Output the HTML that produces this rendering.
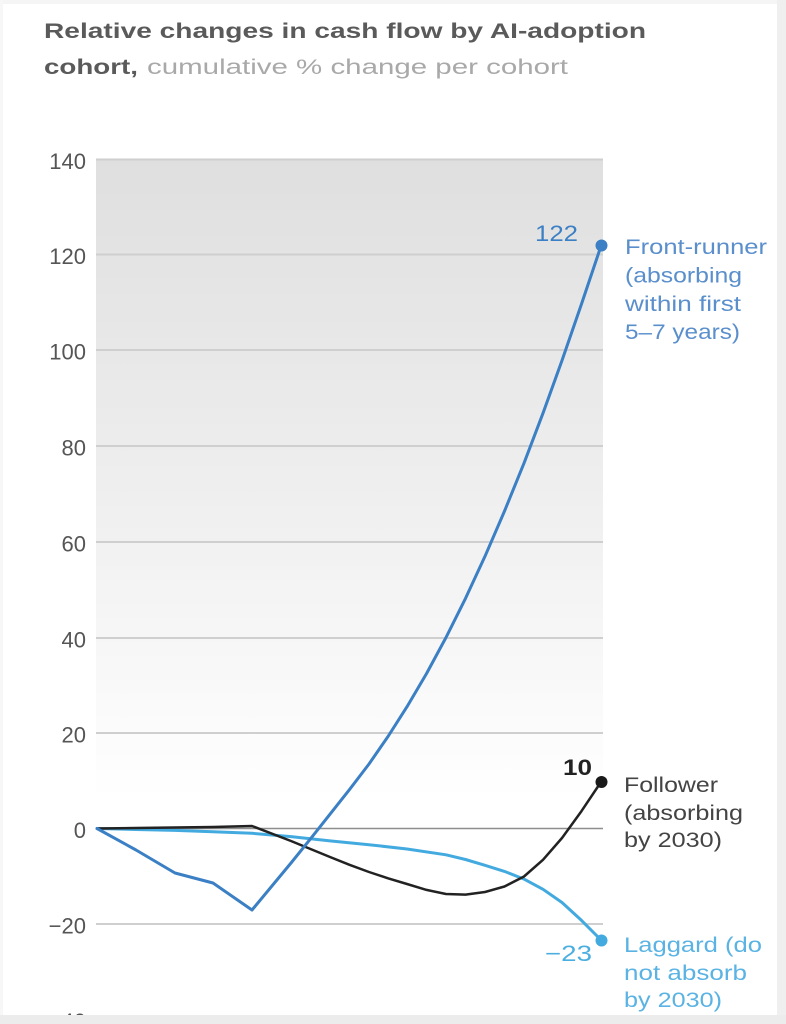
<!DOCTYPE html>
<html>
<head>
<meta charset="utf-8">
<style>
  html, body { margin: 0; padding: 0; background: #ffffff; }
  body { width: 786px; height: 1024px; overflow: hidden; }
  svg { display: block; }
  text { font-family: "Liberation Sans", Arial, sans-serif; }
</style>
</head>
<body>
<svg width="786" height="1024" viewBox="0 0 786 1024" xmlns="http://www.w3.org/2000/svg">
  <defs>
    <linearGradient id="bg" x1="0" y1="159" x2="0" y2="800" gradientUnits="userSpaceOnUse">
      <stop offset="0" stop-color="#dfdfdf"/>
      <stop offset="0.5" stop-color="#eeeeee"/>
      <stop offset="1" stop-color="#ffffff"/>
    </linearGradient>
  </defs>

  <!-- page frame -->
  <rect x="0" y="0" width="786" height="1024" fill="#ffffff"/>
  <rect x="0" y="0" width="786" height="4" fill="#f5f5f5"/>
  <rect x="0" y="0" width="3" height="1024" fill="#f7f7f7"/>

  <!-- title -->
  <text x="44" y="38" font-size="21" font-weight="bold" fill="#5a5a5a" textLength="602" lengthAdjust="spacingAndGlyphs">Relative changes in cash flow by AI-adoption</text>
  <text x="44" y="74" font-size="21" font-weight="bold" fill="#5a5a5a" textLength="94" lengthAdjust="spacingAndGlyphs">cohort,</text>
  <text x="147" y="74" font-size="21" fill="#a9a9a9" textLength="421" lengthAdjust="spacingAndGlyphs">cumulative % change per cohort</text>

  <!-- plot background -->
  <rect x="96" y="159" width="507" height="645" fill="url(#bg)"/>

  <!-- gridlines -->
  <g stroke="#cfcfcf" stroke-width="2">
    <line x1="96" y1="159.5" x2="603" y2="159.5"/>
    <line x1="96" y1="254.5" x2="603" y2="254.5"/>
    <line x1="96" y1="350" x2="603" y2="350"/>
    <line x1="96" y1="446" x2="603" y2="446"/>
    <line x1="96" y1="542" x2="603" y2="542"/>
    <line x1="96" y1="638" x2="603" y2="638"/>
    <line x1="96" y1="733" x2="603" y2="733"/>
    <line x1="96" y1="924" x2="603" y2="924"/>
  </g>
  <line x1="96" y1="828.5" x2="603" y2="828.5" stroke="#8e8e8e" stroke-width="1.6"/>

  <!-- y axis labels -->
  <g font-size="22" fill="#555555" text-anchor="end">
    <text x="86" y="169">140</text>
    <text x="86" y="264">120</text>
    <text x="86" y="359.5">100</text>
    <text x="86" y="455.5">80</text>
    <text x="86" y="551.5">60</text>
    <text x="86" y="647.5">40</text>
    <text x="86" y="742.5">20</text>
    <text x="86" y="838">0</text>
    <text x="86" y="933.5">−20</text>
    <text x="86" y="1029">−40</text>
  </g>

  <!-- Laggard series -->
  <polyline fill="none" stroke="#43aae0" stroke-width="3" stroke-linejoin="round" stroke-linecap="round"
    points="97,828.5 136,829.5 175,830.4 213,831.8 252,833.3 291,836.6 330,840.9 369,844.7 407,849 446,854.8 465.5,859.5 485,865.3 504.5,871.4 524,879.1 543,889.3 562,902.5 581.5,920.4 601,940"/>
  <!-- Follower series -->
  <polyline fill="none" stroke="#222222" stroke-width="2.5" stroke-linejoin="round" stroke-linecap="round"
    points="97,828.5 136,828 175,827.5 213,827 252,826 291,841 310.5,849 330,857 349.5,864.8 369,872 388,878.3 407,884 426.5,889.9 446,894 465.5,894.6 485,892 504.5,886.5 524,876.5 543,859.8 562,838 581.5,811.1 601,782"/>
  <!-- Front-runner series -->
  <polyline fill="none" stroke="#3b7fc4" stroke-width="3" stroke-linejoin="round" stroke-linecap="round"
    points="97,828.5 136,850 175,873 213,883 252,910 291,863 310.5,838.8 330,814.2 349.5,789.6 369,764 388,736.5 407,706.7 426.5,673.6 446,637.5 465.5,598.4 485,556.3 504.5,511.1 524,463.2 543,413.2 562,360.5 581.5,304 601,246"/>

  <!-- end dots -->
  <circle cx="601.5" cy="245.5" r="6" fill="#3b7fc4"/>
  <circle cx="601.5" cy="782" r="6" fill="#1a1a1a"/>
  <circle cx="601.5" cy="940.5" r="6" fill="#43aae0"/>

  <!-- end value labels -->
  <text x="578" y="241" font-size="22" fill="#3b7fc4" text-anchor="end" textLength="43" lengthAdjust="spacingAndGlyphs">122</text>
  <text x="592" y="775" font-size="22" font-weight="bold" fill="#222222" text-anchor="end" textLength="29" lengthAdjust="spacingAndGlyphs">10</text>
  <text x="592" y="961" font-size="22" fill="#4aaee0" text-anchor="end" textLength="47" lengthAdjust="spacingAndGlyphs">−23</text>

  <!-- series labels -->
  <g font-size="21" fill="#5a8fcc">
    <text x="625" y="254" textLength="142" lengthAdjust="spacingAndGlyphs">Front-runner</text>
    <text x="625" y="282.5" textLength="117" lengthAdjust="spacingAndGlyphs">(absorbing</text>
    <text x="625" y="311" textLength="116" lengthAdjust="spacingAndGlyphs">within first</text>
    <text x="625" y="339" textLength="115" lengthAdjust="spacingAndGlyphs">5–7 years)</text>
  </g>
  <g font-size="21" fill="#444444">
    <text x="624" y="792" textLength="94" lengthAdjust="spacingAndGlyphs">Follower</text>
    <text x="624" y="820" textLength="119" lengthAdjust="spacingAndGlyphs">(absorbing</text>
    <text x="624" y="847" textLength="98" lengthAdjust="spacingAndGlyphs">by 2030)</text>
  </g>
  <g font-size="21" fill="#5ab3e3">
    <text x="624" y="952" textLength="138" lengthAdjust="spacingAndGlyphs">Laggard (do</text>
    <text x="624" y="980" textLength="123" lengthAdjust="spacingAndGlyphs">not absorb</text>
    <text x="624" y="1007" textLength="98" lengthAdjust="spacingAndGlyphs">by 2030)</text>
  </g>

  <!-- frame bands -->
  <rect x="777" y="0" width="9" height="1024" fill="#efefef"/>
  <rect x="0" y="1015" width="786" height="9" fill="#ececec"/>
</svg>
</body>
</html>
